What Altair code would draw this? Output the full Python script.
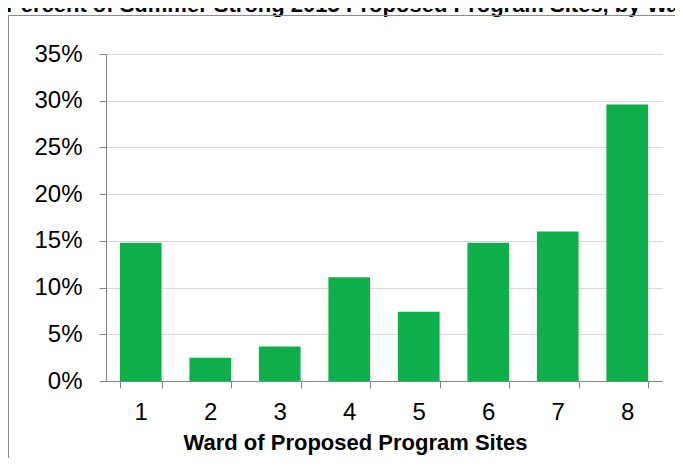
import altair as alt
import pandas as pd

wards = ["1", "2", "3", "4", "5", "6", "7", "8"]
shares = [0.148, 0.025, 0.037, 0.111, 0.074, 0.148, 0.160, 0.296]
y_ticks = [0, 0.05, 0.10, 0.15, 0.20, 0.25, 0.30, 0.35]
title_text = "Percent of Summer Strong 2015 Proposed Program Sites, by Ward"
x_title = "Ward of Proposed Program Sites"

df = pd.DataFrame({"ward": wards, "share": shares})
one = pd.DataFrame({"t": [title_text]})

FONT = "Liberation Sans, Arial, sans-serif"
AXIS_GRAY = "#868686"

bars = alt.Chart(df).mark_bar(color="#0fb04b").encode(
    x=alt.X(
        "ward:N",
        sort=wards,
        scale=alt.Scale(paddingInner=0.4, paddingOuter=0.2),
        axis=alt.Axis(
            title=x_title,
            labelAngle=0,
            tickBand="extent",
            ticks=True,
            tickSize=7,
            labelPadding=12,
            labelFontSize=24,
            labelFont=FONT,
            labelColor="#000000",
            domainColor=AXIS_GRAY,
            tickColor=AXIS_GRAY,
            grid=False,
            titleFont=FONT,
            titleFontSize=22,
            titleFontWeight="bold",
            titleColor="#000000",
            titleX=249,
            titleY=68,
            titleAlign="center",
            titleBaseline="alphabetic",
        ),
    ),
    y=alt.Y(
        "share:Q",
        scale=alt.Scale(domain=[0, 0.35], nice=False),
        axis=alt.Axis(
            values=y_ticks,
            format=".0%",
            title=None,
            tickSize=7,
            labelPadding=17,
            labelFontSize=24,
            labelFont=FONT,
            labelColor="#000000",
            domainColor=AXIS_GRAY,
            tickColor=AXIS_GRAY,
            grid=True,
            gridColor="#d9d9d9",
        ),
    ),
)

title_layer = alt.Chart(one).mark_text(
    align="left", baseline="alphabetic", fontSize=22, fontWeight="bold",
    font=FONT, color="#000000"
).encode(x=alt.value(-100), y=alt.value(-42.5), text="t:N")

left_rule = alt.Chart(one).mark_rule(color="#8c8c8c", strokeWidth=1).encode(
    x=alt.value(-97.5), y=alt.value(-38.5), y2=alt.value(420)
)
top_rule = alt.Chart(one).mark_rule(color="#8c8c8c", strokeWidth=1).encode(
    x=alt.value(-97.5), x2=alt.value(620), y=alt.value(-38.5)
)

chart = alt.layer(bars, title_layer, left_rule, top_rule).properties(
    width=556,
    height=327,
    autosize=alt.AutoSizeParams(type="none"),
    padding={"left": 98, "top": 46, "right": 13, "bottom": 77},
).configure_view(stroke=None)

chart.save("out.html", embed_options={"renderer": "svg", "actions": False})
